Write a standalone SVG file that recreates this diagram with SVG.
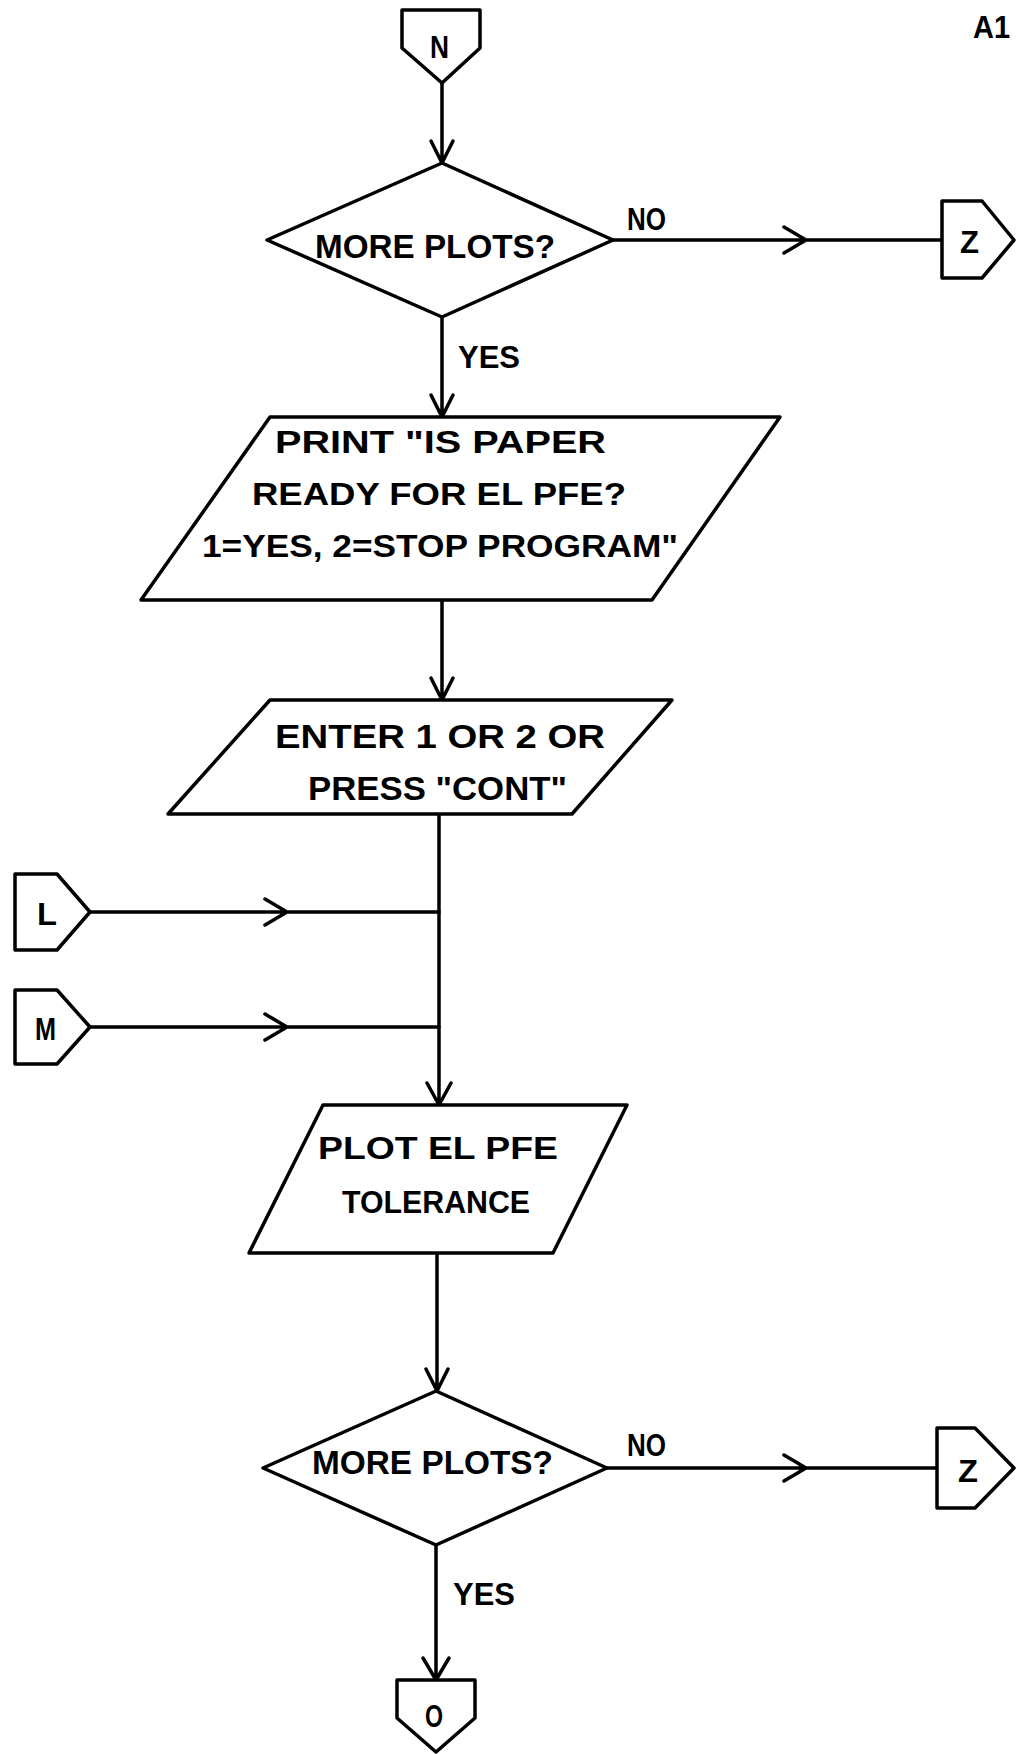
<svg xmlns="http://www.w3.org/2000/svg" width="1016" height="1754" viewBox="0 0 1016 1754">
<style>
.s{fill:none;stroke:#000;stroke-width:3.5;stroke-linejoin:round;stroke-linecap:round}
.n{fill:#fff;stroke:#000;stroke-width:3.5;stroke-linejoin:round}
text{font-family:"Liberation Sans",Arial,sans-serif;font-weight:bold;font-size:31px;fill:#000}
.b{font-size:34px}
</style>
<rect width="1016" height="1754" fill="#fff"/>
<g id="connectors">
<path class="s" d="M442,83 V163 M431,141 L442,163 L453,141"/>
<path class="s" d="M442,317 V417 M431,395 L442,417 L453,395"/>
<path class="s" d="M442,600 V700 M431,678 L442,700 L453,678"/>
<path class="s" d="M439,814 V1105 M427,1083 L439,1105 L451,1083"/>
<path class="s" d="M90,912 H439 M265,899 L287,912 L265,925"/>
<path class="s" d="M90,1027 H439 M265,1014 L287,1027 L265,1040"/>
<path class="s" d="M437,1253 V1391 M426,1369 L437,1391 L448,1369"/>
<path class="s" d="M436,1545 V1680 M423,1658 L436,1680 L449,1658"/>
<path class="s" d="M613,240 H942 M784,227 L806,240 L784,253"/>
<path class="s" d="M607,1468 H937 M784,1455 L806,1468 L784,1481"/>
<text x="458" y="368" textLength="62" lengthAdjust="spacingAndGlyphs">YES</text>
<text x="627" y="230" textLength="39" lengthAdjust="spacingAndGlyphs">NO</text>
<text x="453" y="1605" textLength="62" lengthAdjust="spacingAndGlyphs">YES</text>
<text x="627" y="1456" textLength="39" lengthAdjust="spacingAndGlyphs">NO</text>
</g>
<g id="label-A1"><text x="973" y="38" textLength="37" lengthAdjust="spacingAndGlyphs">A1</text></g>
<g id="N">
<path class="n" d="M402,10 H480 V48 L442,83 L402,48 Z"/>
<text x="430" y="58" textLength="19" lengthAdjust="spacingAndGlyphs">N</text>
</g>
<g id="decision1">
<path class="n" d="M442,163 L613,240 L442,317 L267,240 Z"/>
<text class="b" x="315" y="258" textLength="240" lengthAdjust="spacingAndGlyphs">MORE PLOTS?</text>
</g>
<g id="Z1">
<path class="n" d="M942,201 H982 L1014,240 L982,278 H942 Z"/>
<text x="960" y="253" textLength="19" lengthAdjust="spacingAndGlyphs">Z</text>
</g>
<g id="print">
<path class="n" d="M270,417 H780 L652,600 H141 Z"/>
<text x="275" y="453" textLength="331" lengthAdjust="spacingAndGlyphs">PRINT "IS PAPER</text>
<text x="252" y="505" textLength="374" lengthAdjust="spacingAndGlyphs">READY FOR EL PFE?</text>
<text x="202" y="557" textLength="476" lengthAdjust="spacingAndGlyphs">1=YES, 2=STOP PROGRAM"</text>
</g>
<g id="enter">
<path class="n" d="M270,700 H672 L572,814 H168 Z"/>
<text class="b" x="275" y="748" textLength="330" lengthAdjust="spacingAndGlyphs">ENTER 1 OR 2 OR</text>
<text class="b" x="308" y="800" textLength="259" lengthAdjust="spacingAndGlyphs">PRESS "CONT"</text>
</g>
<g id="L">
<path class="n" d="M15,874 H57 L90,912 L57,950 H15 Z"/>
<text x="37" y="925" textLength="20" lengthAdjust="spacingAndGlyphs">L</text>
</g>
<g id="M">
<path class="n" d="M15,990 H57 L90,1027 L57,1064 H15 Z"/>
<text x="35" y="1040" textLength="21" lengthAdjust="spacingAndGlyphs">M</text>
</g>
<g id="plot">
<path class="n" d="M323,1105 H627 L553,1253 H249 Z"/>
<text x="318" y="1159" textLength="240" lengthAdjust="spacingAndGlyphs">PLOT EL PFE</text>
<text x="342" y="1213" textLength="188" lengthAdjust="spacingAndGlyphs">TOLERANCE</text>
</g>
<g id="decision2">
<path class="n" d="M436,1391 L607,1468 L436,1545 L263,1468 Z"/>
<text class="b" x="312" y="1474" textLength="241" lengthAdjust="spacingAndGlyphs">MORE PLOTS?</text>
</g>
<g id="Z2">
<path class="n" d="M937,1428 H975 L1014,1468 L975,1508 H937 Z"/>
<text x="958" y="1482" textLength="20" lengthAdjust="spacingAndGlyphs">Z</text>
</g>
<g id="O">
<path class="n" d="M397,1680 H475 V1718 L436,1752 L397,1718 Z"/>
<text x="425" y="1727" textLength="18" lengthAdjust="spacingAndGlyphs">O</text>
</g>
</svg>
